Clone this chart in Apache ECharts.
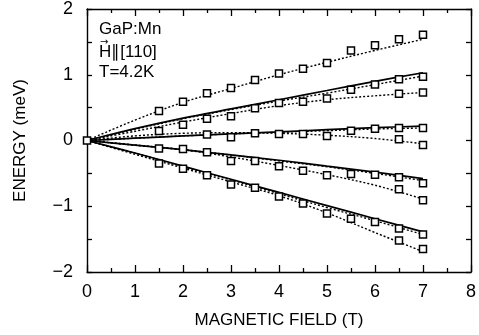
<!DOCTYPE html>
<html>
<head>
<meta charset="utf-8">
<script src="https://cdn.jsdelivr.net/npm/echarts@6/dist/echarts.min.js"></script>
<style>html,body{margin:0;padding:0;background:#fff;}#c{width:479px;height:335px;}</style>
</head>
<body>
<div id="c"></div>
<script>
// ---- data ----
const xTicks = [0, 1, 2, 3, 4, 5, 6, 7, 8];
const yTicks = [-2, -1, 0, 1, 2];
const curveField = [0, 1, 2, 3, 4, 5, 6, 7];
// dotted theory curves
const dotted1 = [0, 0.31, 0.58, 0.79, 1.00, 1.19, 1.37, 1.54];
const dotted2 = [0, 0.17, 0.33, 0.47, 0.60, 0.72, 0.85, 0.98];
const dotted3 = [0, 0.14, 0.28, 0.41, 0.53, 0.62, 0.68, 0.73];
const dotted4 = [0, 0.035, 0.07, 0.10, 0.125, 0.15, 0.175, 0.19];
const dotted5 = [0, 0.07, 0.11, 0.12, 0.11, 0.08, 0.03, -0.05];
const dotted6 = [0, -0.07, -0.14, -0.22, -0.31, -0.40, -0.50, -0.61];
const dotted7 = [0, -0.07, -0.14, -0.25, -0.38, -0.52, -0.68, -0.89];
const dotted8 = [0, -0.19, -0.40, -0.60, -0.81, -1.02, -1.22, -1.43];
const dotted9 = [0, -0.21, -0.42, -0.63, -0.84, -1.10, -1.40, -1.69];
// solid theory curves
const solid1 = [0, 0.18, 0.34, 0.48, 0.62, 0.76, 0.90, 1.03];
const solid2 = [0, 0.035, 0.07, 0.10, 0.13, 0.165, 0.195, 0.22];
const solid3 = [0, -0.07, -0.14, -0.22, -0.30, -0.39, -0.48, -0.58];
const solid4 = [0, -0.19, -0.39, -0.59, -0.79, -0.99, -1.19, -1.39];
// measured points
const pointField = [0,
  1.5, 1.5, 1.5, 1.5,
  2, 2, 2, 2,
  2.5, 2.5, 2.5, 2.5, 2.5,
  3, 3, 3, 3, 3,
  3.5, 3.5, 3.5, 3.5, 3.5,
  4, 4, 4, 4, 4,
  4.5, 4.5, 4.5, 4.5, 4.5,
  5, 5, 5, 5, 5,
  5.5, 5.5, 5.5, 5.5, 5.5,
  6, 6, 6, 6, 6,
  6.5, 6.5, 6.5, 6.5, 6.5, 6.5, 6.5, 6.5, 6.5,
  7, 7, 7, 7, 7, 7, 7, 7, 7];
const pointEnergy = [0,
  0.45, 0.145, -0.12, -0.35,
  0.59, 0.24, -0.13, -0.43,
  0.72, 0.33, 0.09, -0.18, -0.53,
  0.80, 0.37, 0.05, -0.31, -0.67,
  0.92, 0.49, 0.11, -0.31, -0.72,
  1.02, 0.57, 0.10, -0.39, -0.85,
  1.09, 0.59, 0.10, -0.46, -0.96,
  1.18, 0.64, 0.07, -0.53, -1.11,
  1.37, 0.77, 0.15, -0.51, -1.19,
  1.45, 0.85, 0.18, -0.52, -1.24,
  1.54, 0.93, 0.71, 0.19, 0.02, -0.56, -0.74, -1.34, -1.52,
  1.61, 0.97, 0.73, 0.19, -0.07, -0.65, -0.91, -1.43, -1.65];
const labelLines = ['GaP:Mn', 'H\u2225[110]', 'T=4.2K'];
const xName = 'MAGNETIC FIELD (T)';
const yName = 'ENERGY (meV)';

// ---- chart ----
const FONT = 'Liberation Sans';
const chart = echarts.init(document.getElementById('c'), null, {renderer: 'canvas'});
const pair = arr => curveField.map((x, i) => [x, arr[i]]);
const dottedSets = [dotted1, dotted2, dotted3, dotted4, dotted5, dotted6, dotted7, dotted8, dotted9];
const solidSets = [solid1, solid2, solid3, solid4];
const fmtNum = v => (Math.abs(v - Math.round(v)) > 1e-6) ? '' : String(Math.round(v)).replace('-', '\u2212');

const series = [];
dottedSets.forEach(a => series.push({
  type: 'line', data: pair(a), smooth: 0.35, showSymbol: false, silent: true,
  lineStyle: {color: '#000', width: 1.4, type: [2, 2]}, z: 2
}));
solidSets.forEach(a => series.push({
  type: 'line', data: pair(a), smooth: 0.35, showSymbol: false, silent: true,
  lineStyle: {color: '#000', width: 1.7}, z: 3
}));
series.push({
  type: 'scatter', data: pointField.map((x, i) => [x, pointEnergy[i]]),
  symbol: 'rect', symbolSize: 7,
  itemStyle: {color: '#fff', borderColor: '#000', borderWidth: 1.5, opacity: 1}, z: 5
});

const axisCommon = {
  axisLine: {show: true, onZero: false, lineStyle: {color: '#000', width: 1.4}},
  splitLine: {show: false}
};

chart.setOption({
  animation: false,
  backgroundColor: '#fff',
  grid: {left: 87, right: 2, top: 9, bottom: 63, containLabel: false},
  xAxis: [
    Object.assign({}, axisCommon, {
      type: 'value', min: 0, max: 8, interval: 1, position: 'bottom',
      axisTick: {show: true, inside: true, length: 7, lineStyle: {color: '#000', width: 1.3}},
      minorTick: {show: true, splitNumber: 2, length: 4, lineStyle: {color: '#000', width: 1.3}},
      axisLabel: {show: true, margin: 11, color: '#000', fontSize: 18, fontFamily: FONT, formatter: fmtNum},
      name: xName, nameLocation: 'middle', nameGap: 40,
      nameTextStyle: {color: '#000', fontSize: 17, fontFamily: FONT}
    }),
    Object.assign({}, axisCommon, {
      type: 'value', min: 0, max: 8, interval: 1, position: 'top',
      axisTick: {show: true, inside: true, length: 7, lineStyle: {color: '#000', width: 1.3}},
      minorTick: {show: true, splitNumber: 2, length: 4, lineStyle: {color: '#000', width: 1.3}},
      axisLabel: {show: false}
    })
  ],
  yAxis: [
    Object.assign({}, axisCommon, {
      type: 'value', min: -2, max: 2, interval: 0.5, position: 'left',
      axisTick: {show: true, inside: true, length: 5, lineStyle: {color: '#000', width: 1.3}},
      axisLabel: {show: true, margin: 14, color: '#000', fontSize: 18, fontFamily: FONT, formatter: fmtNum},
      name: yName, nameLocation: 'middle', nameGap: 58, nameRotate: 90,
      nameTextStyle: {color: '#000', fontSize: 17, fontFamily: FONT}
    }),
    Object.assign({}, axisCommon, {
      type: 'value', min: -2, max: 2, interval: 0.5, position: 'right',
      axisTick: {show: true, inside: true, length: 5, lineStyle: {color: '#000', width: 1.3}},
      axisLabel: {show: false}
    })
  ],
  graphic: [
    {type: 'text', left: 99, top: 21, style: {text: labelLines[0], fill: '#000', font: '17px "Liberation Sans"'}},
    {type: 'text', left: 100, top: 37, style: {text: '\u2192', fill: '#000', font: '10px "DejaVu Sans"'}},
    {type: 'text', left: 99, top: 44, style: {text: labelLines[1], fill: '#000', font: '17px "Liberation Sans"'}},
    {type: 'text', left: 99, top: 64, style: {text: labelLines[2], fill: '#000', font: '17px "Liberation Sans"'}}
  ],
  series: series
});
</script>
</body>
</html>
